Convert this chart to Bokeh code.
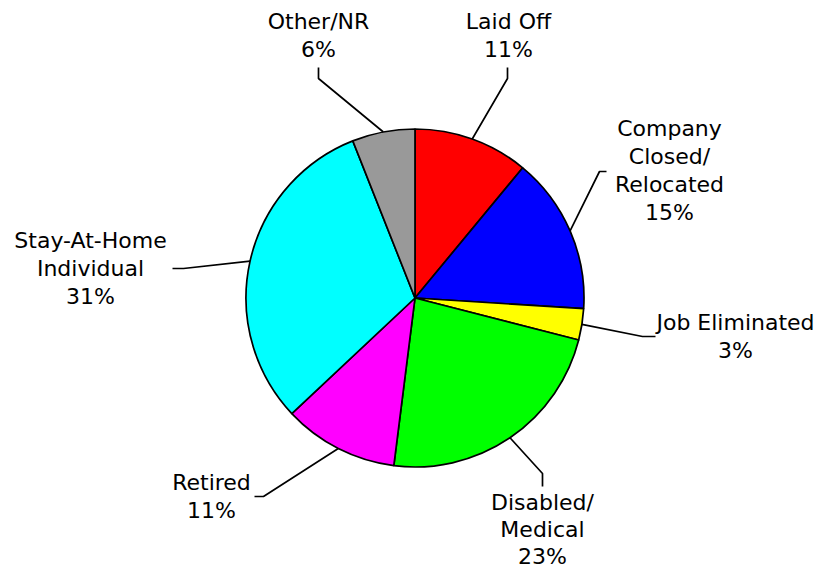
import math
from bokeh.plotting import figure
from bokeh.models import Range1d, ColumnDataSource
from bokeh.core.properties import value
from bokeh.embed import file_html
from bokeh.resources import INLINE

# ---- data ----
categories = ["Laid Off", "Company Closed/Relocated", "Job Eliminated",
              "Disabled/Medical", "Retired", "Stay-At-Home Individual", "Other/NR"]
label_lines = [["Laid Off"], ["Company", "Closed/", "Relocated"], ["Job Eliminated"],
               ["Disabled/", "Medical"], ["Retired"], ["Stay-At-Home", "Individual"], ["Other/NR"]]
percents = [11, 15, 3, 23, 11, 31, 6]
colors = ["#FF0000", "#0000FF", "#FFFF00", "#00FF00", "#FF00FF", "#00FFFF", "#999999"]

# ---- layout (picture pixel coordinates) ----
W, H = 816, 571
CX, CY, R = 414.5, 297.5, 169
label_x = [508, 669, 735, 542, 211, 90, 318]
label_y0 = [21, 128, 322, 502, 482, 240, 21]
line_step = 27.9
elbows = [(507, 78), (599, 171), (642, 336), (542, 473), (263, 496), (183, 268), (318, 78)]
ends = [(507, 67), (606, 171), (655, 336), (542, 486), (254, 496), (172, 268), (318, 67)]


def px(x):
    return x


def py(y):
    return H - y


total = sum(percents)
starts, stops, mids = [], [], []
cum = 0.0
for v in percents:
    a0 = math.pi / 2 - 2 * math.pi * cum / total
    cum += v
    a1 = math.pi / 2 - 2 * math.pi * cum / total
    starts.append(a1)
    stops.append(a0)
    mids.append((a0 + a1) / 2)

p = figure(width=W, height=H, output_backend="svg", toolbar_location=None,
           x_range=Range1d(0, W), y_range=Range1d(0, H), min_border=0)
p.axis.visible = False
p.grid.visible = False
p.outline_line_color = None
p.background_fill_color = "white"
p.border_fill_color = "white"

src = ColumnDataSource(dict(start=starts, end=stops, color=colors, cat=categories))
p.wedge(x=px(CX), y=py(CY), radius=R, start_angle="start", end_angle="end",
        fill_color="color", line_color="black", line_width=1.7, source=src)

xs, ys = [], []
for m, (ex, ey), (fx, fy) in zip(mids, elbows, ends):
    sx = CX + R * math.cos(m)
    sy = CY - R * math.sin(m)
    xs.append([px(sx), px(ex), px(fx)])
    ys.append([py(sy), py(ey), py(fy)])
p.multi_line(xs, ys, line_color="black", line_width=1.7)

tx, ty, tt = [], [], []
for lines, v, x0, y0 in zip(label_lines, percents, label_x, label_y0):
    step = line_step if len(lines) < 2 or lines[0] != "Disabled/" else 27.0
    for i, t in enumerate(lines + [f"{v}%"]):
        tx.append(px(x0))
        ty.append(py(y0 + i * step))
        tt.append(t)
p.text(x=tx, y=ty, text=tt, text_align="center", text_baseline="alphabetic",
       text_font=value("DejaVu Sans"), text_font_size="22px", text_color="black")

open("out.html", "w").write(file_html(p, INLINE))
